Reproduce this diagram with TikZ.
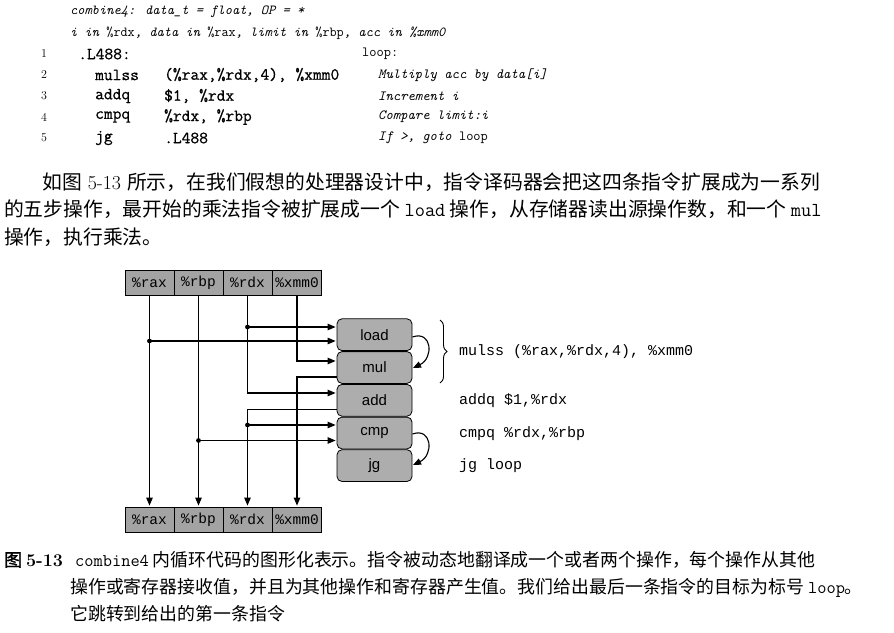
\documentclass[tikz,border=0pt]{standalone}
\usepackage{fontspec}
\usetikzlibrary{arrows.meta,decorations.pathreplacing}
\newfontfamily\cjk{Noto Sans CJK SC}
\newfontfamily\cjkb[FakeBold=1.5]{Noto Sans CJK SC}
\newfontfamily\cour{Liberation Mono}
\newfontfamily\lsans{Liberation Sans}
\newfontfamily\codett[FakeBold=0.8]{Latin Modern Mono}
\definecolor{regfill}{gray}{0.64}
\definecolor{opfill}{gray}{0.68}
\begin{document}
\begin{tikzpicture}[x=1pt,y=-1pt,
  reg/.style={draw, line width=0.8pt, fill=regfill, minimum width=49pt, minimum height=25pt, inner sep=0pt, font=\cour\fontsize{14.5}{14.5}\selectfont},
  opbox/.style={draw, line width=0.8pt, fill=opfill, rounded corners=5pt, minimum width=75pt, minimum height=31.8pt, inner sep=0pt, font=\lsans\fontsize{15}{15}\selectfont},
  wire/.style={line width=1.1pt, -{Triangle[length=8pt,width=6.5pt]}, shorten >=1pt},
  jdot/.style={fill=black},
  asm/.style={anchor=west, inner sep=0pt, font=\cour\fontsize{15}{15}\selectfont},
  hdr/.style={anchor=west, inner sep=0pt, font=\ttfamily\itshape\fontsize{13.8}{13.8}\selectfont},
  lnum/.style={anchor=center, inner sep=0pt, font=\rmfamily\fontsize{12}{12}\selectfont},
  code/.style={anchor=west, inner sep=0pt, font=\codett\fontsize{17}{17}\selectfont},
  cmt/.style={anchor=west, inner sep=0pt, font=\ttfamily\itshape\fontsize{14}{14}\selectfont},
  para/.style={anchor=west, inner sep=0pt, font=\cjk\fontsize{19.8}{19.8}\selectfont},
  capt/.style={anchor=west, inner sep=0pt, font=\cjk\fontsize{17.9}{17.9}\selectfont}
]
\useasboundingbox (0,0) rectangle (894,632);

% ---- code listing ----
\node[hdr] (h1) at (70,12) {combine4: data\_t = float, OP = *};
\node[hdr] (h2) at (70,33) {i in {\upshape\%rdx}, data in {\upshape\%rax}, limit in {\upshape\%rbp}, acc in \%xmm0};

\node[lnum] (n1) at (44,54) {1};
\node[lnum] (n2) at (44,75) {2};
\node[lnum] (n3) at (44,96) {3};
\node[lnum] (n4) at (44,117) {4};
\node[lnum] (n5) at (44,138) {5};

\node[code] (c1a) at (78,54) {.L488:};
\node[code] (c2a) at (95,75) {mulss};
\node[code] (c2b) at (164,75) {(\%rax,\%rdx,4), \%xmm0};
\node[code] (c3a) at (95,96) {addq};
\node[code] (c3b) at (164,96) {\$1, \%rdx};
\node[code] (c4a) at (95,117) {cmpq};
\node[code] (c4b) at (164,117) {\%rdx, \%rbp};
\node[code] (c5a) at (95,138) {jg};
\node[code] (c5b) at (164,138) {.L488};

\node[cmt] (m1) at (362,54) {\upshape loop:};
\node[cmt] (m2) at (378,75) {Multiply acc by data[i]};
\node[cmt] (m3) at (378,96) {Increment i};
\node[cmt] (m4) at (378,117) {Compare limit:i};
\node[cmt] (m5) at (378,138) {If >, goto {\upshape loop}};

% ---- paragraph ----
\node[para] (p1) at (42,182) {如图\hspace{6pt}{\rmfamily 5-13}\hspace{6pt}所示，在我们假想的处理器设计中，指令译码器会把这四条指令扩展成为一系列};
\node[para] (p2) at (4,209) {的五步操作，最开始的乘法指令被扩展成一个 {\ttfamily load} 操作，从存储器读出源操作数，和一个 {\ttfamily mul}};
\node[para] (p3) at (4,237) {操作，执行乘法。};

% ---- diagram ----
\node[reg] (trax) at (149.5,282.5) {\%rax};
\node[reg] (trbp) at (198.5,282.5) {\%rbp};
\node[reg] (trdx) at (247.5,282.5) {\%rdx};
\node[reg] (txmm) at (297,282.5) {\%xmm0};
\node[reg] (brax) at (149.5,519.5) {\%rax};
\node[reg] (brbp) at (198.5,519.5) {\%rbp};
\node[reg] (brdx) at (247.5,519.5) {\%rdx};
\node[reg] (bxmm) at (297,519.5) {\%xmm0};

\node[opbox] (load) at (374.5,334.7) {load};
\node[opbox] (mul)  at (374.5,367.5) {mul};
\node[opbox] (add)  at (374.5,400.3) {add};
\node[opbox] (cmp)  at (374.5,433.0) {cmp};
\node[opbox] (jg)   at (374.5,465.6) {jg};

\coordinate (yA) at (0,327);
\coordinate (yB) at (0,341);
\coordinate (yC) at (0,361);
\coordinate (yD) at (0,377);
\coordinate (yE) at (0,393);
\coordinate (yF) at (0,409.5);
\coordinate (yG) at (0,425);
\coordinate (yH) at (0,440.5);

% %rax
\draw[wire] (trax) -- (brax);
\draw[wire] (trax |- yB) -- (load.west |- yB);
\fill[jdot] (trax |- yB) circle (2.4pt);
% %rbp
\draw[wire] (trbp) -- (brbp);
\draw[wire] (trbp |- yH) -- (cmp.west |- yH);
\fill[jdot] (trbp |- yH) circle (2.4pt);
% %rdx
\draw[wire] (trdx.south) |- (add.west |- yE);
\draw[wire] (trdx |- yA) -- (load.west |- yA);
\fill[jdot] (trdx |- yA) circle (2.4pt);
\draw[wire] (add.west |- yF) -| (brdx.north);
\draw[wire] (trdx |- yG) -- (cmp.west |- yG);
\fill[jdot] (trdx |- yG) circle (2.4pt);
% %xmm0
\draw[wire] (txmm.south) |- (mul.west |- yC);
\draw[wire] (mul.west |- yD) -| (bxmm.north);

% op-to-op arrows
\coordinate (la) at (412,337);
\coordinate (mb) at (413,368);
\coordinate (ca) at (412,434);
\coordinate (jb) at (413,465);
\draw[line width=1.1pt, -{Triangle[length=8pt,width=6.5pt]}] (load.east |- la) .. controls (432,330) and (434,358) .. (mb);
\draw[line width=1.1pt, -{Triangle[length=8pt,width=6.5pt]}] (cmp.east |- ca) .. controls (432,427) and (434,455) .. (jb);

% brace and instruction labels
\coordinate (bt) at (440,320);
\coordinate (bb) at (440,383);
\draw[line width=0.9pt, decorate, decoration={brace, amplitude=7pt}] (bt) -- (bb);
\node[asm] (i1) at (459,352) {mulss (\%rax,\%rdx,4), \%xmm0};
\node[asm] (i2) at (459,401) {addq \$1,\%rdx};
\node[asm] (i3) at (459,434) {cmpq \%rdx,\%rbp};
\node[asm] (i4) at (459,466) {jg loop};

% ---- caption ----
\node[capt, font=\cjkb\fontsize{17.9}{17.9}\selectfont] (k0) at (4,560) {图 {\rmfamily\bfseries 5-13}};
\node[capt] (k1) at (75,560) {{\ttfamily combine4} 内循环代码的图形化表示。指令被动态地翻译成一个或者两个操作，每个操作从其他};
\node[capt] (k2) at (70,588) {操作或寄存器接收值，并且为其他操作和寄存器产生值。我们给出最后一条指令的目标为标号 {\ttfamily loop}。};
\node[capt] (k3) at (70,614) {它跳转到给出的第一条指令};
\end{tikzpicture}
\end{document}
